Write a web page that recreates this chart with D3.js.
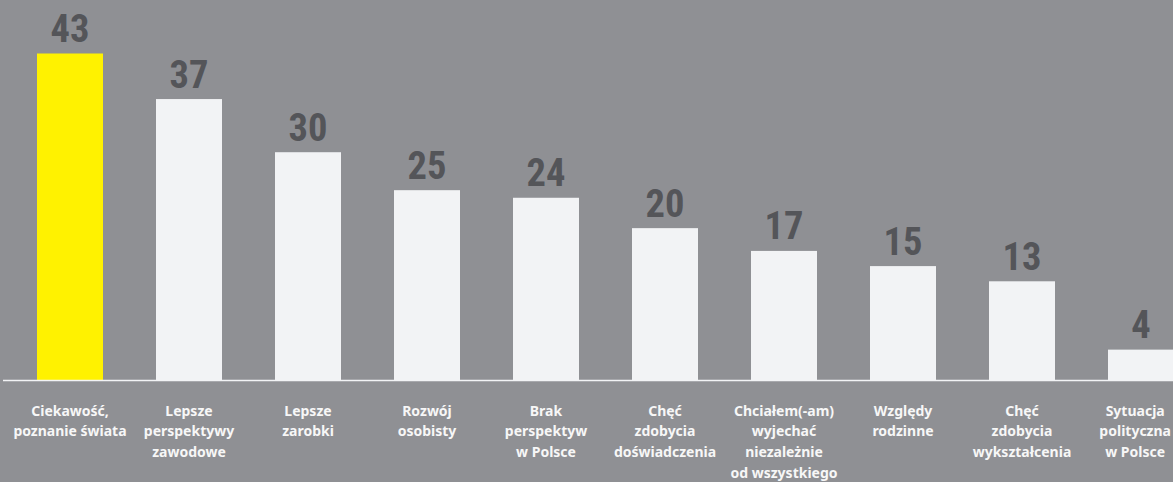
<!DOCTYPE html>
<html>
<head>
<meta charset="utf-8">
<script src="https://cdn.jsdelivr.net/npm/d3@7"></script>
<style>
	html, body { margin: 0; padding: 0; background: #8f9094; }
	svg { display: block; }
</style>
</head>
<body>
<div id="chart"></div>
<script>
const categories = [
	'Ciekawość,\npoznanie świata',
	'Lepsze\nperspektywy\nzawodowe',
	'Lepsze\nzarobki',
	'Rozwój\nosobisty',
	'Brak\nperspektyw\nw Polsce',
	'Chęć\nzdobycia\ndoświadczenia',
	'Chciałem(-am)\nwyjechać\nniezależnie\nod wszystkiego',
	'Względy\nrodzinne',
	'Chęć\nzdobycia\nwykształcenia',
	'Sytuacja\npolityczna\nw Polsce'
];
const values = [43, 37, 30, 25, 24, 20, 17, 15, 13, 4];

const w = 1173;
const h = 482;
const baseY = 380;

const svg = d3.select('#chart').append('svg')
	.attr('width', w)
	.attr('height', h);

svg.append('rect')
	.attr('width', w)
	.attr('height', h)
	.attr('fill', '#8f9094');

const x = d3.scaleBand()
	.domain(categories)
	.range([10.5, 1200.5])
	.paddingInner(0.4454)
	.paddingOuter(0.2227);

const y = d3.scaleLinear()
	.domain([0, 43])
	.range([baseY, 53.5]);

svg.append('g')
	.selectAll('rect')
	.data(values)
	.join('rect')
	.attr('x', (d, i) => x(categories[i]))
	.attr('y', d => y(d))
	.attr('width', x.bandwidth())
	.attr('height', d => y(0) - y(d))
	.attr('fill', (d, i) => i === 0 ? '#fff200' : '#f2f3f5');

// baseline
svg.append('line')
	.attr('x1', 3)
	.attr('x2', w)
	.attr('y1', baseY + 0.5)
	.attr('y2', baseY + 0.5)
	.attr('stroke', '#f2f3f5')
	.attr('stroke-width', 1.5);

svg.append('g')
	.selectAll('text')
	.data(values)
	.join('text')
	.attr('x', (d, i) => x(categories[i]) + x.bandwidth() / 2)
	.attr('y', d => y(d) - 11.5)
	.attr('text-anchor', 'middle')
	.style('font-family', '"Liberation Sans Narrow", "Roboto Condensed", Roboto, sans-serif')
	.style('font-weight', 'bold')
	.style('font-size', '38.5px')
	.attr('fill', '#545559')
	.text(d => d);

const labels = svg.append('g')
	.selectAll('text')
	.data(categories)
	.join('text')
	.attr('x', d => x(d) + x.bandwidth() / 2)
	.attr('y', 415.5)
	.attr('text-anchor', 'middle')
	.style('font-family', '"Noto Sans", sans-serif')
	.style('font-weight', 'bold')
	.style('font-size', '14px')
	.attr('fill', '#f7f7f7');

labels.selectAll('tspan')
	.data(d => d.split('\n'))
	.join('tspan')
	.attr('x', function () { return d3.select(this.parentNode).attr('x'); })
	.attr('dy', (d, i) => i === 0 ? 0 : 20.8)
	.text(d => d);

// keep the last label inside the picture
labels.each(function () {
	const b = this.getBBox();
	const over = b.x + b.width - (w - 2);
	if (over > 0) {
		const nx = +d3.select(this).attr('x') - over;
		d3.select(this).attr('x', nx).selectAll('tspan').attr('x', nx);
	}
});
</script>
</body>
</html>
